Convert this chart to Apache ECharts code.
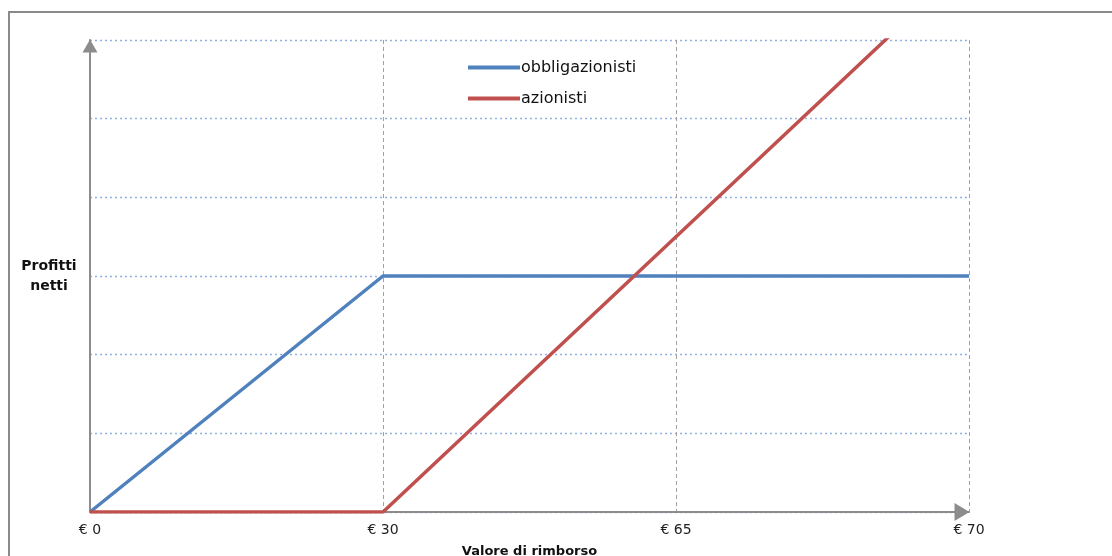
<!DOCTYPE html>
<html>
<head>
<meta charset="utf-8">
<script src="https://cdn.jsdelivr.net/npm/echarts@6/dist/echarts.min.js"></script>
<style>
  html, body { margin: 0; padding: 0; background: #fff; }
  #chart { width: 1112px; height: 556px; }
</style>
</head>
<body>
<div id="chart"></div>
<script>
// Repayment value categories on the horizontal axis
const categories = ['€ 0', '€ 30', '€ 65', '€ 70'];
// Net profits for bondholders and shareholders
const obbligazionisti = [0, 3, 3, 3];
const azionisti = [0, 0, 3.5, 7];
const seriesNames = ['obbligazionisti', 'azionisti'];

const FONT = '"DejaVu Sans", Verdana, sans-serif';
const chart = echarts.init(document.getElementById('chart'), null, { renderer: 'canvas' });

chart.setOption({
  animation: false,
  backgroundColor: '#ffffff',
  textStyle: { fontFamily: FONT },
  grid: { left: 90, right: 143, top: 40, bottom: 44, outerBoundsMode: 'none', containLabel: false },
  legend: {
    orient: 'vertical',
    left: 463,
    top: 53,
    itemWidth: 52,
    itemHeight: 4,
    itemGap: 12,
    icon: 'rect',
    data: seriesNames,
    textStyle: { fontFamily: FONT, fontSize: 16, color: '#111', lineHeight: 19, padding: [0, 0, 0, -4] }
  },
  xAxis: {
    type: 'category',
    data: categories,
    boundaryGap: false,
    name: 'Valore di rimborso',
    nameLocation: 'middle',
    nameGap: 33,
    nameTextStyle: { fontFamily: FONT, fontSize: 13, fontWeight: 'bold', color: '#111' },
    axisLine: {
      show: true,
      symbol: ['none', 'triangle'],
      symbolSize: [18, 15],
      symbolOffset: [0, -7],
      lineStyle: { color: '#8c8c8c', width: 2 }
    },
    axisTick: { show: false },
    axisLabel: { fontFamily: FONT, fontSize: 14, color: '#222', margin: 11 },
    splitLine: { show: true, lineStyle: { color: '#a0a0a0', type: [4, 3], width: 1 } }
  },
  yAxis: {
    type: 'value',
    min: 0,
    max: 6,
    interval: 1,
    name: 'Profitti\nnetti',
    nameLocation: 'middle',
    nameRotate: 0,
    nameGap: 41,
    nameTextStyle: {
      fontFamily: FONT, fontSize: 14, fontWeight: 'bold', color: '#111',
      align: 'center', lineHeight: 20, padding: [4, 0, 0, 0]
    },
    axisLine: {
      show: true,
      symbol: ['none', 'triangle'],
      symbolSize: [15, 13],
      symbolOffset: [0, -6],
      lineStyle: { color: '#8c8c8c', width: 2 }
    },
    axisTick: { show: false },
    axisLabel: { show: false },
    splitLine: { show: true, lineStyle: { color: '#92b1e2', type: [2, 3], width: 1.4 } }
  },
  series: [
    {
      name: seriesNames[0],
      type: 'line',
      data: obbligazionisti,
      symbol: 'none',
      color: '#4f81bd',
      lineStyle: { width: 3.5, color: '#4f81bd' },
      z: 3
    },
    {
      name: seriesNames[1],
      type: 'line',
      data: azionisti,
      symbol: 'none',
      clip: true,
      color: '#c0504d',
      lineStyle: { width: 3.5, color: '#c0504d' },
      z: 4
    }
  ],
  graphic: [
    {
      type: 'polyline',
      shape: { points: [[9, 556], [9, 12], [1112, 12]] },
      style: { stroke: '#8a8a8a', lineWidth: 2, fill: null },
      silent: true
    }
  ]
});
</script>
</body>
</html>
